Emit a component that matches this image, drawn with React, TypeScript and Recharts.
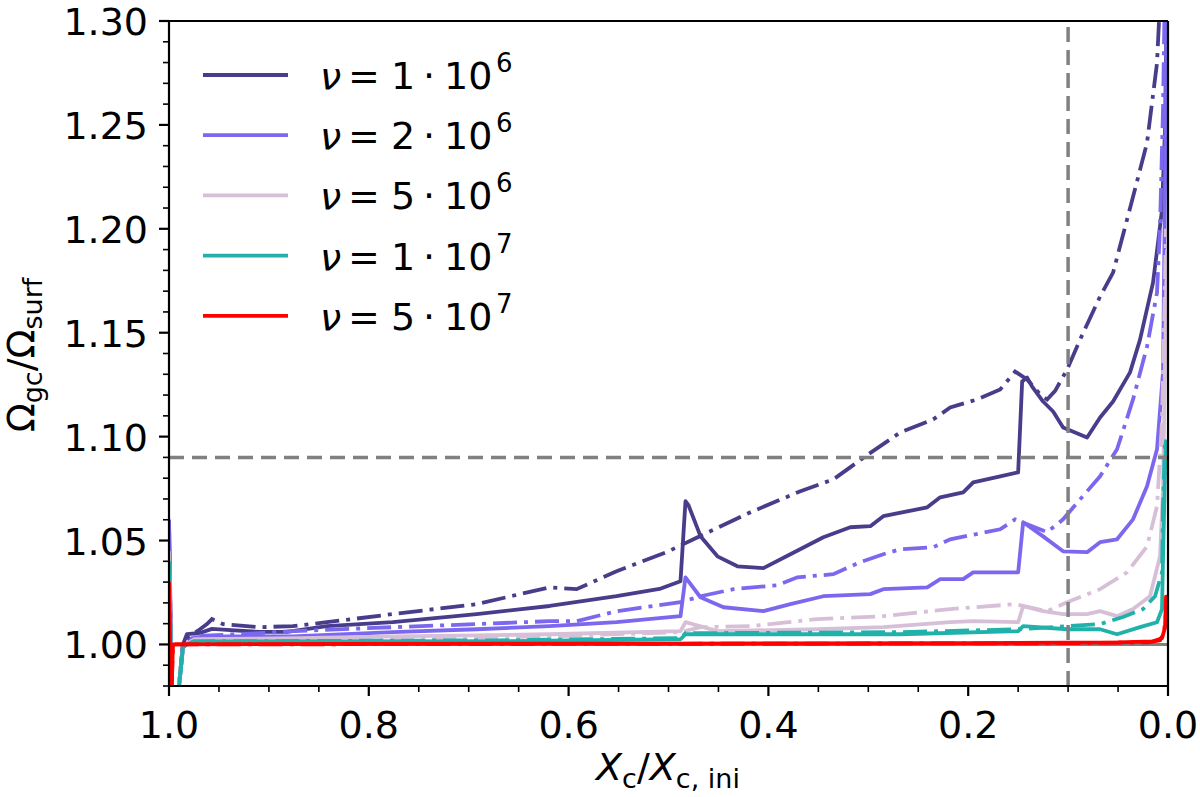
import React from 'react';
import { LineChart, Line, XAxis, YAxis, ReferenceLine } from 'recharts';

// [Xc/Xc,ini, Omega_gc/Omega_surf]
const nu1e6Solid: [number, number][] = [
  [1.0, 1.06], [0.997, 0.97], [0.992, 0.97], [0.986, 1.0], [0.982, 1.005], [0.969, 1.0055],
  [0.957, 1.0075], [0.942, 1.007], [0.909, 1.006], [0.882, 1.006], [0.842, 1.0088], [0.776, 1.0107],
  [0.692, 1.0146], [0.619, 1.0185], [0.552, 1.0232], [0.509, 1.0267], [0.488, 1.0304], [0.483, 1.0689],
  [0.48, 1.067], [0.468, 1.0521], [0.451, 1.0424], [0.431, 1.0376], [0.405, 1.0367], [0.378, 1.0434],
  [0.345, 1.0516], [0.318, 1.0564], [0.298, 1.0569], [0.285, 1.0617], [0.241, 1.066], [0.228, 1.0708],
  [0.205, 1.0732], [0.195, 1.078], [0.168, 1.0809], [0.15, 1.0828], [0.146, 1.1265], [0.141, 1.1284],
  [0.136, 1.1241], [0.125, 1.1169], [0.115, 1.1121], [0.105, 1.1044], [0.081, 1.0996], [0.068, 1.1092],
  [0.055, 1.1169], [0.038, 1.1309], [0.028, 1.1467], [0.015, 1.1741], [0.01, 1.1933], [0.006, 1.2092],
  [0.003, 1.2476], [0.001, 1.32],
];
const nu1e6Dash: [number, number][] = [
  [1.0, 1.05], [0.997, 0.97], [0.992, 0.97], [0.986, 1.001], [0.979, 1.004], [0.969, 1.0073],
  [0.962, 1.0098], [0.957, 1.0122], [0.946, 1.0098], [0.909, 1.0083], [0.876, 1.0088], [0.842, 1.0107],
  [0.776, 1.0146], [0.692, 1.0194], [0.619, 1.0275], [0.592, 1.0266], [0.552, 1.0352], [0.502, 1.0444],
  [0.475, 1.0506], [0.418, 1.0636], [0.368, 1.0737], [0.335, 1.0794], [0.3, 1.0915], [0.268, 1.102],
  [0.235, 1.1083], [0.218, 1.114], [0.191, 1.1179], [0.168, 1.1227], [0.153, 1.1313], [0.141, 1.1275],
  [0.128, 1.1203], [0.121, 1.1179], [0.113, 1.122], [0.101, 1.1323], [0.088, 1.1467], [0.068, 1.1674],
  [0.055, 1.1789], [0.035, 1.2154], [0.021, 1.2414], [0.011, 1.2798], [0.007, 1.32],
];
const nu2e6Solid: [number, number][] = [
  [1.0, 1.06], [0.997, 0.97], [0.992, 0.97], [0.986, 0.9985], [0.975, 1.0034], [0.942, 1.0039],
  [0.876, 1.0039], [0.776, 1.0059], [0.692, 1.0073], [0.619, 1.0088], [0.552, 1.0107], [0.488, 1.0136],
  [0.483, 1.0323], [0.468, 1.0227], [0.445, 1.0179], [0.405, 1.016], [0.378, 1.0194], [0.345, 1.0232],
  [0.298, 1.0242], [0.285, 1.0266], [0.241, 1.0275], [0.228, 1.0314], [0.205, 1.0314], [0.195, 1.0347],
  [0.15, 1.0347], [0.145, 1.0588], [0.125, 1.052], [0.105, 1.0448], [0.081, 1.0444], [0.068, 1.0492],
  [0.051, 1.0506], [0.035, 1.0602], [0.021, 1.0761], [0.011, 1.0939], [0.005, 1.1309], [0.002, 1.262],
  [0.001, 1.32],
];
const nu2e6Dash: [number, number][] = [
  [1.0, 1.05], [0.997, 0.97], [0.992, 0.97], [0.986, 0.9985], [0.975, 1.004], [0.909, 1.0054],
  [0.876, 1.0064], [0.776, 1.0083], [0.692, 1.0098], [0.619, 1.0112], [0.592, 1.0112], [0.552, 1.016],
  [0.488, 1.0203], [0.468, 1.0232], [0.435, 1.0266], [0.391, 1.0285], [0.371, 1.0323], [0.335, 1.0338],
  [0.308, 1.0396], [0.285, 1.0434], [0.268, 1.0458], [0.235, 1.0468], [0.218, 1.0506], [0.168, 1.0554],
  [0.153, 1.0602], [0.141, 1.0578], [0.121, 1.054], [0.105, 1.0602], [0.088, 1.0698], [0.068, 1.0809],
  [0.051, 1.0939], [0.035, 1.1179], [0.021, 1.1433], [0.011, 1.1693], [0.008, 1.201], [0.005, 1.2572],
  [0.003, 1.32],
];
const nu5e6Solid: [number, number][] = [
  [1.0, 1.045], [0.997, 0.97], [0.992, 0.97], [0.986, 0.999], [0.975, 1.0025], [0.868, 1.003],
  [0.776, 1.0039], [0.692, 1.0044], [0.619, 1.0049], [0.488, 1.0064], [0.483, 1.0107], [0.451, 1.0064],
  [0.351, 1.0073], [0.285, 1.0083], [0.218, 1.0107], [0.195, 1.0112], [0.15, 1.0107], [0.145, 1.0184],
  [0.125, 1.016], [0.105, 1.0146], [0.081, 1.0146], [0.068, 1.016], [0.051, 1.0136], [0.035, 1.017],
  [0.018, 1.0232], [0.008, 1.0424], [0.005, 1.0746], [0.002, 1.166], [0.001, 1.19],
];
const nu5e6Dash: [number, number][] = [
  [1.0, 1.04], [0.997, 0.97], [0.992, 0.97], [0.986, 0.999], [0.975, 1.002], [0.776, 1.0029],
  [0.619, 1.0039], [0.488, 1.0059], [0.468, 1.0083], [0.418, 1.0088], [0.351, 1.0122], [0.285, 1.0136],
  [0.218, 1.017], [0.153, 1.0194], [0.121, 1.016], [0.101, 1.0203], [0.068, 1.0266], [0.041, 1.0347],
  [0.021, 1.0472], [0.011, 1.0665], [0.006, 1.1068], [0.003, 1.1755], [0.002, 1.2],
];
const nu1e7Solid: [number, number][] = [
  [1.0, 1.04], [0.997, 0.97], [0.992, 0.97], [0.986, 0.999], [0.975, 1.0015], [0.669, 1.0016],
  [0.488, 1.0025], [0.483, 1.0049], [0.268, 1.0049], [0.15, 1.0064], [0.145, 1.0088], [0.101, 1.0073],
  [0.068, 1.0073], [0.051, 1.0049], [0.028, 1.0083], [0.011, 1.0107], [0.006, 1.017], [0.005, 1.041],
  [0.003, 1.0828], [0.002, 1.0986],
];
const nu1e7Dash: [number, number][] = [
  [1.0, 1.035], [0.997, 0.97], [0.992, 0.97], [0.986, 0.999], [0.975, 1.0015], [0.669, 1.002],
  [0.488, 1.003], [0.483, 1.0054], [0.268, 1.0059], [0.15, 1.0073], [0.101, 1.0088], [0.068, 1.0098],
  [0.045, 1.0132], [0.025, 1.017], [0.013, 1.0232], [0.006, 1.0347], [0.005, 1.0664], [0.003, 1.0986],
];
const nu5e7Solid: [number, number][] = [
  [1.0, 1.03], [0.998, 0.97], [0.996, 1.0], [0.8, 1.0003], [0.5, 1.0004], [0.2, 1.0006],
  [0.05, 1.001], [0.015, 1.0015], [0.006, 1.003], [0.003, 1.008], [0.002, 1.023], [0.001, 1.023],
];
const nu5e7Dash: [number, number][] = [
  [1.0, 1.02], [0.998, 0.97], [0.996, 1.0], [0.5, 1.0003], [0.1, 1.0006], [0.02, 1.001],
  [0.008, 1.002], [0.004, 1.006], [0.002, 1.015],
];

const legendMantissa = ['1', '2', '5', '1', '5'];
const legendExponent = ['6', '6', '6', '7', '7'];
const colors = ['#483D8B', '#7B68EE', '#D8BFD8', '#20B2AA', '#FF0000'];

const xTicks = [1.0, 0.95, 0.9, 0.85, 0.8, 0.75, 0.7, 0.65, 0.6, 0.55, 0.5, 0.45, 0.4, 0.35, 0.3, 0.25, 0.2, 0.15, 0.1, 0.05, 0.0];
const yTicks = [0.98, 0.99, 1.0, 1.01, 1.02, 1.03, 1.04, 1.05, 1.06, 1.07, 1.08, 1.09, 1.1, 1.11, 1.12, 1.13, 1.14, 1.15, 1.16, 1.17, 1.18, 1.19, 1.2, 1.21, 1.22, 1.23, 1.24, 1.25, 1.26, 1.27, 1.28, 1.29, 1.3];

const solidPairs = [nu1e6Solid, nu2e6Solid, nu5e6Solid, nu1e7Solid, nu5e7Solid];
const dashPairs = [nu1e6Dash, nu2e6Dash, nu5e6Dash, nu1e7Dash, nu5e7Dash];

const toPoints = (pairs: [number, number][]) => pairs.map(([x, y]) => ({ x, y }));

// the page keeps the browser's 8px margin otherwise
if (typeof document !== 'undefined') document.body.style.margin = '0';

const FONT = 'DejaVu Sans';
const FS = 38;
const LW = 3.8;
const DASHDOT = '24 7 4 7';

const onStep = (v: number, step: number) => Math.abs(v / step - Math.round(v / step)) < 1e-6;

const YTick = (props: any) => {
  const { x, y, payload } = props;
  const v = payload.value as number;
  const major = onStep(v, 0.05);
  return (
    <g>
      <line x1={x - (major ? 10 : 6)} x2={x} y1={y} y2={y} stroke="#000" strokeWidth={major ? 2.2 : 1.6} />
      {major && (
        <text x={x - 21} y={y + 14} textAnchor="end" fontSize={FS} fontFamily={FONT} fill="#000">
          {v.toFixed(2)}
        </text>
      )}
    </g>
  );
};

const XTick = (props: any) => {
  const { x, y, payload } = props;
  const v = payload.value as number;
  const major = onStep(v, 0.2);
  return (
    <g>
      <line x1={x} x2={x} y1={y} y2={y + (major ? 10 : 6)} stroke="#000" strokeWidth={major ? 2.2 : 1.6} />
      {major && (
        <text x={x} y={y + 52} textAnchor="middle" fontSize={FS} fontFamily={FONT} fill="#000">
          {v.toFixed(1)}
        </text>
      )}
    </g>
  );
};

export default function App() {
  const W = 1200;
  const H = 797;
  return (
    <div style={{ position: 'relative', width: W, height: H, background: '#fff', overflow: 'hidden' }}>
      <LineChart width={W} height={H} margin={{ top: 21, right: 32, left: 0, bottom: 0 }}>
        <XAxis
          type="number"
          dataKey="x"
          domain={[0, 1]}
          reversed
          allowDataOverflow
          ticks={xTicks}
          interval={0}
          tickSize={0}
          tickMargin={0}
          tickLine={false}
          tick={(p: any) => <XTick {...p} />}
          axisLine={{ stroke: '#000', strokeWidth: 2.2 }}
          height={111}
        />
        <YAxis
          type="number"
          dataKey="y"
          domain={[0.98, 1.3]}
          allowDataOverflow
          ticks={yTicks}
          interval={0}
          tickSize={0}
          tickMargin={0}
          tickLine={false}
          tick={(p: any) => <YTick {...p} />}
          axisLine={{ stroke: '#000', strokeWidth: 2.2 }}
          width={169}
        />
        <ReferenceLine y={1.0} stroke="#808080" strokeWidth={3} />
        {solidPairs.map((pairs, i) => [
          <Line
            key={`s${i}`}
            data={toPoints(pairs)}
            dataKey="y"
            type="linear"
            stroke={colors[i]}
            strokeWidth={LW}
            strokeLinejoin="round"
            dot={false}
            activeDot={false}
            isAnimationActive={false}
          />,
          <Line
            key={`d${i}`}
            data={toPoints(dashPairs[i])}
            dataKey="y"
            type="linear"
            stroke={colors[i]}
            strokeWidth={LW}
            strokeDasharray={DASHDOT}
            dot={false}
            activeDot={false}
            isAnimationActive={false}
          />,
        ])}
        <ReferenceLine y={1.09} stroke="#808080" strokeWidth={3.5} strokeDasharray="15 8" />
        <ReferenceLine x={0.1} stroke="#808080" strokeWidth={3.5} strokeDasharray="15 8" />
        <ReferenceLine y={1.3} stroke="#000" strokeWidth={2.2} />
        <ReferenceLine x={0} stroke="#000" strokeWidth={2.2} />
      </LineChart>
      <svg
        width={W}
        height={H}
        style={{ position: 'absolute', left: 0, top: 0, pointerEvents: 'none' }}
        fontFamily={FONT}
      >
        {legendMantissa.map((m, i) => {
          const ly = 75 + 60.2 * i;
          const by = ly + 14;
          return (
            <g key={i}>
              <line x1={203} x2={288} y1={ly} y2={ly} stroke={colors[i]} strokeWidth={LW} />
              <text y={by} fontSize={FS} fill="#000">
                <tspan x={320} fontStyle="italic">ν</tspan>
                <tspan x={348}>=</tspan>
                <tspan x={391}>{m}</tspan>
                <tspan x={423}>·</tspan>
                <tspan x={444}>10</tspan>
                <tspan x={496} fontSize={26} dy={-17}>{legendExponent[i]}</tspan>
              </text>
            </g>
          );
        })}
        <text x={34} y={355} transform="rotate(-90 34 355)" textAnchor="middle" fontSize={FS} fill="#000">
          <tspan>Ω</tspan>
          <tspan fontSize={27} dy={8}>gc</tspan>
          <tspan dy={-8}>/Ω</tspan>
          <tspan fontSize={27} dy={8}>surf</tspan>
        </text>
        <text x={668} y={780} textAnchor="middle" fontSize={FS} fill="#000">
          <tspan fontStyle="italic">X</tspan>
          <tspan fontSize={27} dy={8}>c</tspan>
          <tspan dy={-8}>/</tspan>
          <tspan fontStyle="italic">X</tspan>
          <tspan fontSize={27} dy={8}>c, ini</tspan>
        </text>
      </svg>
    </div>
  );
}
